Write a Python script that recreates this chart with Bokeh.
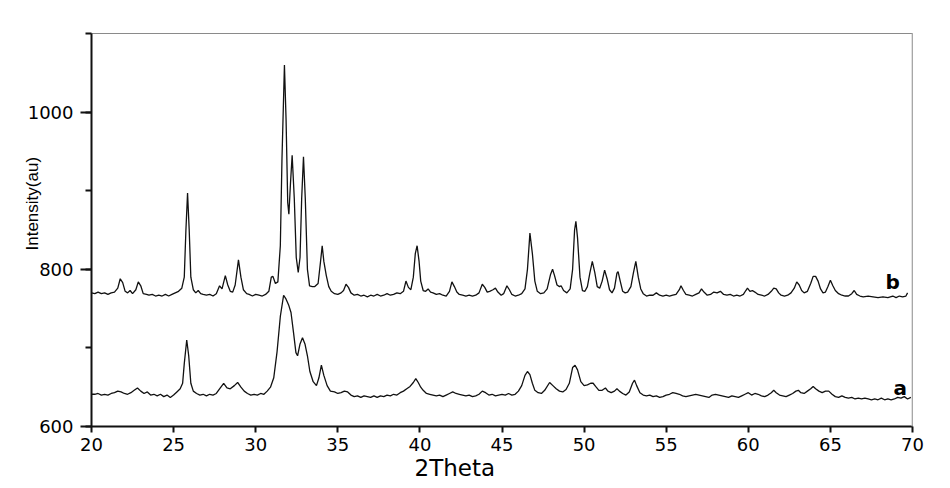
from bokeh.plotting import figure
from bokeh.models import Range1d, SingleIntervalTicker, Label, Span, Title
from bokeh.embed import file_html
from bokeh.resources import INLINE

# ---- data ----
b_x = [20.0, 20.2, 20.4, 20.6, 20.8, 21.0, 21.2, 21.4, 21.6, 21.75, 21.9, 22.05, 22.2, 22.35, 22.5, 22.7,
       22.85, 23.0, 23.15, 23.35, 23.5, 23.7, 23.9, 24.1, 24.3, 24.5, 24.7, 24.9, 25.1, 25.3, 25.5, 25.65,
       25.75, 25.85, 25.95, 26.05, 26.2, 26.35, 26.5, 26.65, 26.8, 27.0, 27.2, 27.4, 27.6, 27.8, 27.95, 28.15,
       28.3, 28.45, 28.6, 28.75, 28.95, 29.1, 29.25, 29.45, 29.6, 29.8, 30.0, 30.2, 30.4, 30.6, 30.8, 30.95,
       31.05, 31.2, 31.35, 31.5, 31.6, 31.75, 31.85, 31.95, 32.02, 32.12, 32.22, 32.35, 32.47, 32.59, 32.7,
       32.8, 32.91, 33.02, 33.15, 33.28, 33.45, 33.6, 33.8, 33.95, 34.05, 34.15, 34.3, 34.45, 34.6, 34.8,
       35.0, 35.2, 35.35, 35.5, 35.65, 35.8, 36.0, 36.2, 36.4, 36.6, 36.8, 37.0, 37.2, 37.4, 37.6, 37.8,
       38.0, 38.2, 38.4, 38.6, 38.8, 39.0, 39.15, 39.3, 39.45, 39.6, 39.72, 39.83, 39.95, 40.05, 40.2,
       40.35, 40.5, 40.65, 40.8, 41.0, 41.2, 41.4, 41.6, 41.8, 41.95, 42.1, 42.25, 42.4, 42.6, 42.8, 43.0,
       43.2, 43.4, 43.6, 43.8, 43.95, 44.1, 44.25, 44.45, 44.6, 44.75, 44.95, 45.1, 45.3, 45.45, 45.6,
       45.8, 46.0, 46.2, 46.4, 46.55, 46.7, 46.85, 47.0, 47.15, 47.35, 47.55, 47.75, 47.95, 48.08, 48.2,
       48.35, 48.5, 48.6, 48.75, 48.95, 49.15, 49.3, 49.42, 49.5, 49.6, 49.75, 49.9, 50.05, 50.2, 50.35,
       50.5, 50.65, 50.8, 50.95, 51.1, 51.25, 51.4, 51.55, 51.7, 51.85, 52.0, 52.07, 52.2, 52.35, 52.5,
       52.65, 52.85, 53.0, 53.15, 53.3, 53.45, 53.6, 53.8, 54.0, 54.2, 54.4, 54.6, 54.8, 55.0, 55.2, 55.4,
       55.6, 55.8, 55.9, 56.05, 56.2, 56.4, 56.6, 56.8, 57.0, 57.15, 57.3, 57.5, 57.7, 57.9, 58.1, 58.3,
       58.5, 58.7, 58.9, 59.1, 59.3, 59.5, 59.7, 59.85, 59.95, 60.1, 60.25, 60.4, 60.6, 60.8, 61.0, 61.2,
       61.4, 61.55, 61.7, 61.85, 62.0, 62.2, 62.4, 62.6, 62.8, 62.95, 63.1, 63.25, 63.4, 63.6, 63.8, 63.95,
       64.1, 64.25, 64.4, 64.55, 64.7, 64.85, 65.0, 65.15, 65.3, 65.5, 65.7, 65.9, 66.1, 66.3, 66.45, 66.6,
       66.8, 67.0, 67.3, 67.6, 67.9, 68.2, 68.5, 68.8, 69.0, 69.2, 69.4, 69.6, 69.7]
b_y = [770, 769, 771, 769, 770, 768, 770, 771, 776, 788, 783, 772, 770, 773, 769, 774,
       784, 779, 769, 768, 767, 768, 766, 767, 766, 768, 766, 768, 770, 772, 776, 790,
       850, 897, 850, 790, 774, 770, 773, 769, 768, 767, 768, 766, 769, 779, 775, 792,
       780, 772, 771, 780, 812, 790, 774, 769, 768, 766, 768, 767, 766, 768, 772, 790,
       791, 782, 784, 830, 940, 1060, 990, 885, 870, 910, 945, 890, 815, 796, 815,
       890, 943, 890, 800, 779, 778, 778, 782, 810, 830, 810, 792, 778, 772, 769,
       768, 770, 773, 781, 777, 770, 767, 768, 766, 767, 765, 767, 766, 768, 766, 767,
       769, 767, 768, 770, 769, 772, 785, 777, 774, 790, 820, 830, 810, 785, 773,
       772, 775, 771, 770, 768, 769, 767, 766, 772, 784, 778, 771, 768, 767, 766, 767,
       766, 767, 770, 781, 777, 771, 772, 774, 776, 771, 767, 769, 779, 774, 768,
       766, 767, 769, 775, 800, 846, 820, 785, 772, 769, 770, 775, 793, 800, 792,
       780, 778, 779, 773, 770, 775, 800, 850, 861, 840, 790, 773, 772, 778, 795,
       810, 796, 778, 776, 785, 799, 788, 774, 770, 776, 795, 797, 785, 772, 770,
       771, 778, 795, 810, 790, 775, 769, 766, 767, 767, 770, 767, 766, 767, 766, 767,
       768, 774, 779, 773, 768, 767, 766, 768, 770, 775, 771, 767, 768, 771, 770, 772,
       768, 767, 768, 766, 767, 766, 768, 773, 776, 772, 773, 771, 768, 767, 766, 768,
       772, 776, 775, 770, 767, 766, 767, 770, 776, 784, 780, 773, 770, 772, 782, 791,
       791, 785, 775, 770, 771, 778, 786, 779, 773, 769, 767, 766, 766, 769, 773, 768,
       766, 765, 766, 765, 764, 765, 764, 766, 764, 766, 765, 766, 770]

a_x = [20.0, 20.2, 20.4, 20.6, 20.8, 21.0, 21.2, 21.4, 21.6, 21.8, 22.0, 22.2, 22.4, 22.6, 22.8, 23.0,
       23.2, 23.4, 23.6, 23.8, 24.0, 24.2, 24.4, 24.6, 24.8, 25.0, 25.2, 25.4, 25.55, 25.65, 25.8, 25.92,
       26.05, 26.2, 26.4, 26.6, 26.8, 27.0, 27.2, 27.4, 27.6, 27.8, 28.05, 28.25, 28.45, 28.7, 28.9, 29.1,
       29.3, 29.5, 29.7, 29.9, 30.1, 30.3, 30.5, 30.7, 30.9, 31.1, 31.3, 31.5, 31.7, 31.85, 32.0, 32.15,
       32.3, 32.45, 32.55, 32.7, 32.85, 33.0, 33.15, 33.3, 33.5, 33.7, 33.85, 34.0, 34.15, 34.35, 34.55,
       34.8, 35.0, 35.2, 35.4, 35.6, 35.8, 36.0, 36.2, 36.4, 36.6, 36.8, 37.0, 37.2, 37.4, 37.6, 37.8,
       38.0, 38.2, 38.4, 38.6, 38.8, 39.0, 39.2, 39.4, 39.6, 39.75, 39.9, 40.05, 40.2, 40.4, 40.6, 40.8,
       41.0, 41.2, 41.4, 41.6, 41.8, 42.0, 42.2, 42.4, 42.6, 42.8, 43.0, 43.2, 43.4, 43.6, 43.8, 44.0,
       44.2, 44.4, 44.6, 44.8, 45.0, 45.2, 45.4, 45.6, 45.8, 46.0, 46.2, 46.4, 46.55, 46.7, 46.85, 47.0,
       47.2, 47.4, 47.6, 47.9, 48.1, 48.3, 48.5, 48.7, 48.9, 49.1, 49.3, 49.45, 49.6, 49.8, 50.0, 50.2,
       50.4, 50.55, 50.7, 50.9, 51.1, 51.3, 51.45, 51.65, 51.85, 52.0, 52.15, 52.35, 52.55, 52.75, 52.95,
       53.07, 53.2, 53.4, 53.6, 53.8, 54.0, 54.2, 54.4, 54.6, 54.8, 55.0, 55.2, 55.4, 55.6, 55.8, 56.0,
       56.2, 56.4, 56.6, 56.8, 57.0, 57.2, 57.4, 57.6, 57.8, 58.0, 58.2, 58.4, 58.6, 58.8, 59.0, 59.2,
       59.4, 59.6, 59.8, 60.0, 60.2, 60.4, 60.6, 60.8, 61.0, 61.2, 61.4, 61.55, 61.7, 61.9, 62.1, 62.3,
       62.5, 62.7, 62.9, 63.05, 63.2, 63.4, 63.6, 63.8, 63.95, 64.1, 64.3, 64.5, 64.7, 64.9, 65.1, 65.3,
       65.5, 65.7, 65.9, 66.1, 66.3, 66.5, 66.7, 66.9, 67.1, 67.3, 67.5, 67.7, 67.9, 68.1, 68.3, 68.5,
       68.7, 68.9, 69.1, 69.3, 69.5, 69.7, 69.9]
a_y = [641, 641, 642, 640, 641, 640, 642, 643, 645, 644, 642, 641, 643, 646, 649, 645,
       642, 644, 640, 641, 639, 641, 638, 640, 637, 640, 644, 648, 655, 680, 710, 690,
       655, 645, 642, 640, 641, 639, 641, 640, 642, 648, 655, 649, 648, 652, 656, 650,
       645, 642, 640, 641, 640, 642, 641, 645, 650, 662, 695, 740, 767, 762, 755, 745,
       720, 694, 690, 705, 713, 705, 690, 670, 657, 652, 662, 678, 665, 652, 645,
       644, 642, 643, 645, 644, 640, 638, 639, 637, 639, 638, 637, 639, 637, 639, 638,
       640, 639, 641, 640, 643, 645, 648, 651, 656, 661, 656, 650, 646, 642, 641, 640,
       639, 640, 638, 640, 642, 644, 642, 641, 640, 639, 640, 638, 639, 641, 645, 643,
       640, 641, 639, 640, 641, 640, 642, 640, 641, 645, 652, 665, 670, 666, 655, 646,
       643, 642, 646, 656, 652, 648, 645, 644, 647, 655, 675, 678, 672, 657, 652, 653,
       655, 655, 651, 646, 646, 649, 645, 643, 645, 648, 645, 642, 640, 644, 655,
       659, 652, 643, 640, 639, 640, 638, 639, 637, 638, 640, 641, 643, 642, 641, 639,
       638, 639, 640, 641, 640, 639, 638, 637, 640, 641, 640, 639, 638, 637, 639, 638,
       637, 639, 641, 643, 640, 642, 641, 639, 638, 640, 643, 646, 643, 640, 639, 638,
       640, 642, 645, 646, 643, 642, 645, 648, 651, 648, 645, 643, 645, 645, 641, 638,
       637, 639, 637, 636, 637, 635, 636, 635, 636, 635, 634, 635, 634, 636, 634, 635,
       634, 635, 637, 636, 638, 635, 637]

x_title = "2Theta"
y_title = "Intensity(au)"
series_labels = ["a", "b"]

# ---- figure ----
p = figure(width=950, height=488, output_backend="svg", toolbar_location=None,
           x_range=Range1d(20, 70), y_range=Range1d(600, 1100),
           min_border_left=91, min_border_right=38, min_border_top=33, min_border_bottom=62)
p.background_fill_color = "white"
p.border_fill_color = "white"
p.grid.visible = False
p.outline_line_color = "#8a8a8a"
p.outline_line_width = 1

p.line(b_x, b_y, line_color="#111111", line_width=1.3)
p.line(a_x, a_y, line_color="#111111", line_width=1.3)

# axes
xa = p.xaxis[0]
xa.ticker = SingleIntervalTicker(interval=5, num_minor_ticks=0)
xa.major_tick_out = 6
xa.major_tick_in = 0
xa.minor_tick_out = 0
xa.axis_line_width = 2
xa.axis_line_color = "#111111"
xa.major_tick_line_width = 2
xa.major_tick_line_color = "#111111"
xa.major_label_text_font = "DejaVu Sans"
xa.major_label_text_font_size = "18px"
xa.major_label_text_color = "black"
xa.major_label_standoff = 5

ya = p.yaxis[0]
ya.ticker = SingleIntervalTicker(interval=200, num_minor_ticks=2)
ya.major_tick_out = 11
ya.major_tick_in = 0
ya.minor_tick_out = 6
ya.minor_tick_in = 0
ya.axis_line_width = 2
ya.axis_line_color = "#111111"
ya.major_tick_line_width = 2
ya.major_tick_line_color = "#111111"
ya.minor_tick_line_width = 2
ya.minor_tick_line_color = "#111111"
ya.major_label_text_font = "DejaVu Sans"
ya.major_label_text_font_size = "18px"
ya.major_label_text_color = "black"
ya.major_label_standoff = 7

# right border (light gray)
p.add_layout(Span(location=70, dimension="height", line_color="#c4c4c4", line_width=2))

# axis titles as side-panel titles so they can be positioned along the axis
p.add_layout(Title(text=x_title, align="left", offset=323, standoff=2, vertical_align="top",
                   text_font="DejaVu Sans", text_font_size="23px", text_font_style="normal",
                   text_color="black"), "below")
p.add_layout(Title(text=y_title, align="left", offset=176, standoff=-34, vertical_align="bottom",
                   text_font="Liberation Sans", text_font_size="17px", text_font_style="normal",
                   text_color="black"), "left")

# series labels
p.add_layout(Label(x=68.36, y=784, text=series_labels[1], text_font="DejaVu Sans", text_font_size="20px",
                   text_font_style="bold", text_color="black", text_baseline="alphabetic"))
p.add_layout(Label(x=68.84, y=649.5, text=series_labels[0], text_font="DejaVu Sans", text_font_size="20px",
                   text_font_style="bold", text_color="black", text_baseline="alphabetic"))

open("out.html", "w").write(file_html(p, INLINE))
